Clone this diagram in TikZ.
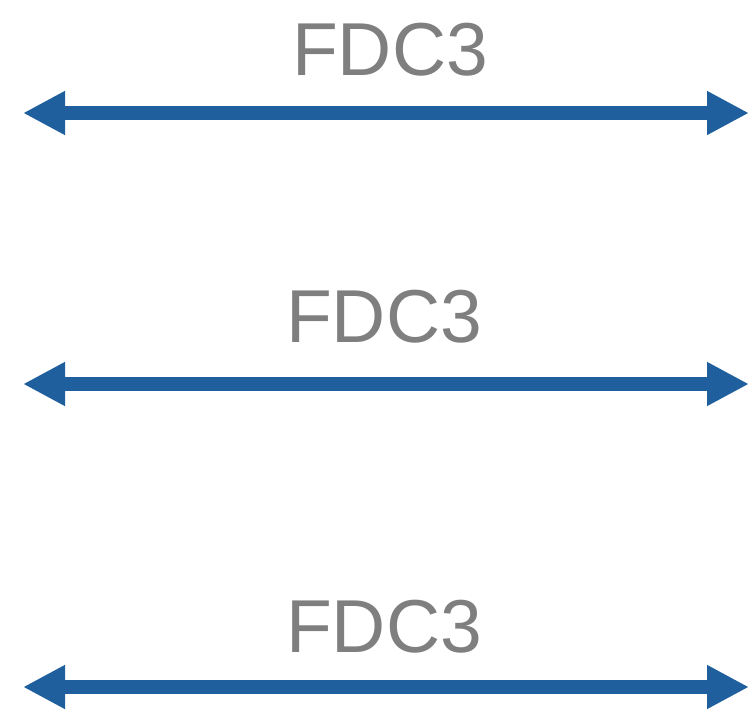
\documentclass[tikz,border=0pt]{standalone}
\usepackage{fontspec}
\setmainfont{Liberation Sans}
\usetikzlibrary{arrows.meta}
\definecolor{arrowblue}{RGB}{31,95,158}
\definecolor{labelgray}{RGB}{127,127,127}
\begin{document}
\begin{tikzpicture}[x=1pt,y=-1pt,
  link/.style={draw=arrowblue,line width=14pt,
    {Triangle[length=42pt,width=41pt]}-{Triangle[length=42pt,width=41pt]}},
  lbl/.style={text=labelgray,anchor=base,inner sep=0pt,
    font=\fontsize{75}{84}\selectfont}]
\useasboundingbox (0,0) rectangle (750,712);
% arrow 1
\coordinate (l1) at (23,113);
\coordinate (r1) at (749,113);
\node[lbl] (t1) at (390,75) {FDC3};
\draw[link] (l1) -- (r1);
% arrow 2
\coordinate (l2) at (23,384);
\coordinate (r2) at (749,384);
\node[lbl] (t2) at (384,342) {FDC3};
\draw[link] (l2) -- (r2);
% arrow 3
\coordinate (l3) at (23,687);
\coordinate (r3) at (749,687);
\node[lbl] (t3) at (384,652) {FDC3};
\draw[link] (l3) -- (r3);
\end{tikzpicture}
\end{document}
